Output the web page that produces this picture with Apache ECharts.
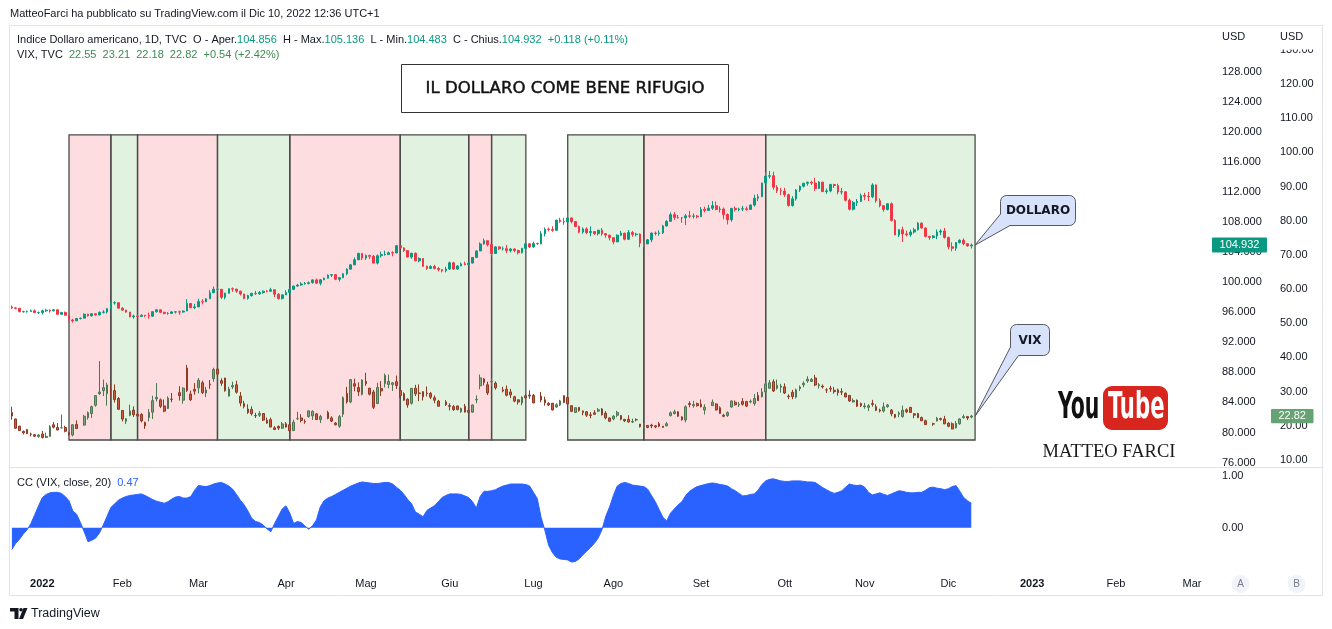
<!DOCTYPE html>
<html><head><meta charset="utf-8">
<script src="https://cdn.jsdelivr.net/npm/echarts@6/dist/echarts.min.js"></script>
<style>html,body{margin:0;padding:0;background:#fff}#c{width:1332px;height:629px}</style>
</head><body><div id="c"></div>
<script>
// ---------- categories (trading days) ----------
const nCats = 316;
const skipDays = ['2021-12-24', '2021-12-31'];
const monthNames = ['Gen','Feb','Mar','Apr','Mag','Giu','Lug','Ago','Set','Ott','Nov','Dic'];

// ---------- DXY (Indice Dollaro americano) ----------
const dxyPrevClose = 96.70;
const dxyClose = [
96.57,96.52,96.06,96.08,96.11,96.19,95.96,95.96,
96.19,96.27,96.18,96.32,95.72,95.97,95.60,94.96,94.85,95.17,95.21,95.74,95.52,95.80,95.64,95.99,96.03,96.47,97.25,97.27,96.54,
96.28,96.02,95.38,95.49,95.43,95.60,95.54,95.47,96.07,96.32,95.99,95.83,95.84,96.04,96.05,96.02,96.16,97.16,96.61,96.71,
97.41,97.39,97.79,98.60,99.05,99.05,97.98,98.53,99.13,99.08,98.80,98.43,97.84,98.21,98.50,98.45,98.63,98.80,98.79,98.99,98.40,97.82,98.31,
98.62,99.04,99.48,99.62,99.76,99.82,99.93,100.30,99.86,100.31,100.52,100.93,101.00,100.38,100.60,101.12,101.73,102.30,102.98,103.82,103.20,
103.54,103.44,102.54,103.52,103.66,103.67,103.91,103.88,104.85,104.56,104.20,103.34,103.84,102.84,103.15,102.11,101.83,102.08,101.83,101.67,101.53,101.75,
102.57,101.74,102.15,102.43,102.33,102.54,103.29,104.15,105.08,105.52,105.00,103.81,104.69,104.45,104.45,104.20,104.41,104.21,103.93,104.50,105.10,104.69,
105.13,105.10,106.43,107.04,107.01,106.89,108.26,108.07,108.01,108.54,108.06,107.41,106.67,107.08,106.59,106.73,106.45,106.91,106.45,106.26,105.91,
105.36,106.25,106.51,105.71,106.61,106.35,106.39,105.20,105.08,105.63,106.53,106.48,106.55,107.48,108.10,108.98,108.61,108.56,108.56,108.82,108.77,108.79,108.70,
109.68,109.54,109.83,110.17,109.68,109.73,109.01,108.30,109.82,109.67,109.73,109.76,109.68,110.26,111.16,111.36,113.19,114.10,114.16,112.63,112.16,112.12,
111.63,110.19,111.08,112.25,112.76,113.16,113.29,113.19,112.46,113.31,112.05,112.14,112.98,112.86,111.99,112.03,110.90,109.70,110.60,110.75,111.53,
111.44,111.35,112.93,110.83,110.17,109.67,110.43,108.21,106.28,106.98,106.42,106.30,106.67,106.96,107.85,107.20,106.09,105.94,106.14,106.67,106.80,105.95,
104.70,104.51,105.29,105.57,105.11,104.814,104.932
];
const dxyHigh = [
96.91,96.69,96.56,96.20,96.23,96.37,96.38,96.10,
96.34,96.46,96.38,96.44,96.34,96.05,96.09,95.60,95.12,95.24,95.30,95.83,95.80,95.86,95.87,96.10,96.27,96.55,97.34,97.44,97.27,
96.68,96.32,96.02,95.68,95.63,95.71,95.62,95.95,96.16,96.43,96.35,96.05,96.01,96.15,96.16,96.22,96.24,97.74,97.20,97.12,
97.80,97.73,97.88,98.93,99.42,99.33,99.05,98.60,99.14,99.30,99.08,98.87,98.44,98.33,98.60,98.84,98.83,98.91,98.93,99.25,99.01,98.55,98.34,
98.93,99.20,99.55,99.76,100.01,100.02,100.10,100.37,100.48,100.42,100.60,101.03,101.03,101.05,100.69,101.18,101.86,102.43,103.29,103.93,103.79,
103.69,103.66,103.59,103.69,104.07,104.19,104.06,104.11,104.93,105.01,104.64,104.24,103.89,103.95,103.31,103.19,102.20,102.25,102.31,101.98,101.75,102.05,
102.74,102.70,102.27,102.62,102.72,102.70,103.34,104.23,105.29,105.79,105.49,105.02,104.79,104.78,104.74,104.95,104.53,104.52,104.32,104.55,105.25,105.20,
105.39,105.26,106.79,107.27,107.27,107.42,108.29,108.56,108.56,109.29,108.59,108.07,107.53,107.29,107.29,107.42,106.78,106.97,107.19,106.54,106.25,
105.96,106.35,106.81,106.59,106.93,106.81,106.56,106.50,105.51,105.75,106.59,106.73,106.89,107.62,108.23,109.28,109.31,108.94,108.64,109.06,109.48,109.14,108.94,
109.99,110.03,110.27,110.79,110.73,110.09,109.92,109.12,109.87,110.05,109.91,110.16,110.06,110.35,111.63,111.72,113.23,114.58,114.78,114.69,112.90,112.54,
112.55,111.78,111.44,112.39,112.87,113.21,113.39,113.49,113.88,113.45,113.22,112.46,113.09,113.08,113.10,112.52,112.05,111.11,110.81,111.06,111.78,
111.88,111.99,113.15,113.01,111.15,110.23,110.47,110.61,108.38,107.04,107.38,106.85,106.99,107.23,107.99,107.95,107.28,106.16,106.26,107.00,107.04,107.20,
106.05,105.30,105.34,105.70,105.81,105.18,105.136
];
const dxyLow = [
96.43,96.38,96.00,95.95,95.95,96.04,95.91,95.78,
95.70,96.03,95.95,96.11,95.67,95.67,95.55,94.93,94.63,94.83,95.03,95.20,95.41,95.43,95.55,95.59,95.82,95.83,96.45,97.02,96.53,
96.18,95.94,95.34,95.14,95.28,95.38,95.35,95.14,95.41,95.94,95.91,95.72,95.66,95.79,95.83,95.67,95.94,96.14,96.54,96.42,
96.71,97.05,97.32,97.76,98.53,98.80,97.74,97.72,98.49,98.71,98.60,98.22,97.72,97.67,98.07,98.30,98.32,98.45,98.63,98.81,98.02,97.69,97.68,
98.30,98.58,98.94,99.38,99.53,99.67,99.70,99.80,99.78,99.57,100.27,100.48,100.69,100.26,100.09,100.52,100.93,101.65,102.29,102.92,102.94,
102.96,103.09,102.50,102.35,103.28,103.53,103.66,103.44,103.87,104.29,104.03,103.28,103.10,102.77,102.65,102.02,101.64,101.79,101.69,101.43,101.30,101.30,
101.62,101.63,101.66,102.13,102.24,102.17,102.48,103.23,104.15,104.99,104.76,103.41,103.75,104.28,104.20,103.86,103.95,103.98,103.68,103.82,104.43,104.53,
104.58,104.98,105.05,106.10,106.76,106.70,107.09,107.89,107.64,107.90,107.82,107.29,106.50,106.44,106.38,106.10,106.29,106.20,106.17,105.91,105.55,
105.04,105.32,106.13,105.57,105.63,106.04,106.09,104.64,104.64,105.10,105.32,106.22,106.18,106.41,107.39,108.03,108.29,108.45,107.90,107.59,108.52,108.45,108.50,
108.70,109.28,109.60,109.60,109.56,109.27,108.35,107.68,108.04,109.40,109.43,109.44,109.52,109.62,110.05,110.78,111.40,113.00,113.79,112.30,111.87,111.58,
111.35,110.07,110.06,110.84,111.99,112.61,112.83,112.93,112.13,112.40,111.98,111.75,111.95,112.53,111.68,111.64,110.72,109.54,109.54,110.13,110.68,
110.90,110.80,111.17,110.58,109.95,109.37,109.54,108.09,106.25,106.01,105.34,106.09,106.06,106.46,106.88,107.16,105.95,105.63,105.80,105.71,106.26,105.80,
104.36,104.11,104.18,105.14,104.89,104.74,104.483
];

// ---------- VIX [open, close, low, high]; null = no session ----------
const vixBars = [
[23.9,22.87,21.8,25.6],[22.0,19.29,19.1,22.1],[19.9,18.63,18.5,20.0],[18.4,17.96,17.5,18.6],[18.9,17.68,17.6,19.0],[17.6,17.54,16.9,18.0],[17.4,16.95,16.7,17.6],[16.9,17.33,16.5,17.5],
[17.6,16.60,16.3,18.5],[16.6,16.91,16.4,18.0],[16.9,19.73,16.8,20.2],[20.3,19.61,19.2,21.1],[19.5,18.76,18.7,20.8],
[19.4,19.40,19.3,23.3],[19.5,18.41,18.1,20.0],[18.0,17.62,17.0,18.2],[17.3,20.31,16.9,20.5],[20.4,19.19,19.1,21.6],
null,[20.2,22.79,20.1,23.2],[22.4,23.85,21.8,24.2],[23.6,25.59,22.3,25.9],[26.0,28.85,25.6,29.0],
[29.4,29.90,29.0,38.94],[30.3,31.16,28.7,33.5],[29.4,31.96,25.9,32.6],[30.5,30.49,28.3,32.0],[30.3,27.66,26.8,32.1],
[28.0,24.83,24.6,28.4],
[24.5,21.96,21.3,24.6],[21.3,22.09,20.5,22.2],[23.1,24.35,22.8,26.2],[24.6,23.22,22.6,25.7],
[23.4,22.86,22.2,24.1],[23.3,21.44,21.0,23.7],[21.0,19.96,19.1,21.2],[22.4,23.91,21.3,24.9],[24.0,27.36,22.0,28.8],
[27.9,28.33,27.1,32.5],[27.6,25.70,25.2,28.0],[25.8,24.29,24.0,27.7],[25.1,28.11,24.9,28.6],[27.8,27.75,26.9,29.6],
null,[29.7,28.81,27.4,31.6],[27.5,31.02,26.5,31.3],[36.9,30.32,29.9,37.8],[29.3,27.59,27.3,30.3],
[30.7,30.15,29.1,32.5],
[31.1,33.32,29.5,34.0],[32.6,29.74,29.3,33.2],[29.6,30.48,28.4,31.4],[32.2,31.98,30.8,33.4],
[33.8,36.45,32.9,37.0],[36.6,35.13,32.4,37.5],[33.2,32.45,31.7,33.9],[34.0,30.23,30.0,34.0],[28.7,30.75,28.6,31.4],
[31.4,31.77,30.8,32.9],[32.0,29.83,29.4,33.2],[28.7,26.67,25.7,29.9],[26.5,25.67,25.1,27.3],[24.9,23.87,23.5,26.3],
[24.8,23.53,23.0,25.7],[23.0,22.94,22.3,23.8],[23.1,23.57,22.6,24.3],[23.6,21.67,21.4,23.7],[21.6,20.81,20.6,22.4],
[21.8,19.63,19.6,22.4],[19.4,18.90,18.8,19.9],[19.8,19.33,18.8,20.1],[19.3,20.56,19.1,21.1],
[20.6,19.63,19.5,21.1],
[20.3,18.57,18.5,20.4],[18.6,21.03,18.5,21.8],[22.1,22.10,21.7,24.1],[22.3,21.55,21.0,23.4],[21.3,21.16,20.6,21.9],
[22.7,24.37,22.4,24.5],[22.9,24.26,21.7,24.5],[23.5,21.82,21.7,23.7],[21.8,22.70,20.8,23.2],null,
[23.9,22.17,21.9,24.4],[22.3,21.37,21.1,22.8],[20.8,20.32,20.1,21.1],[19.9,22.68,19.4,23.2],[23.4,28.21,22.6,28.6],
[29.5,27.02,26.5,31.4],[27.0,33.52,26.6,33.6],[32.3,31.60,30.1,33.8],[31.2,29.99,28.7,32.7],[29.2,33.40,28.9,33.6],
[33.0,32.34,31.7,35.5],[31.0,29.25,28.9,31.1],[29.9,25.42,24.9,30.5],[26.5,31.20,26.4,32.6],[30.9,30.19,28.7,33.1],
[32.3,34.75,31.2,35.3],[32.1,32.99,31.0,35.0],[32.1,32.56,30.2,32.8],[32.9,31.77,30.8,34.7],[30.3,28.87,28.2,31.4],
[29.4,27.47,27.3,29.8],[27.8,26.10,25.3,28.0],[26.6,30.96,26.2,31.0],[31.0,29.35,28.7,32.0],[29.6,29.43,27.2,32.1],
[30.0,28.48,27.4,30.1],[29.6,29.45,28.6,31.5],[29.5,28.37,27.8,29.9],[28.2,27.50,26.6,28.9],[27.2,25.72,25.7,27.6],
null,[27.0,26.19,25.8,27.5],
[25.9,25.69,24.5,26.6],[25.6,24.72,24.4,26.1],[25.8,24.79,24.5,25.9],
[24.1,25.07,23.8,25.3],[25.7,24.02,23.9,26.4],[24.5,23.96,23.6,24.8],[24.0,26.09,23.8,26.2],[27.6,27.75,26.6,28.9],
[31.7,34.02,30.7,35.0],[33.7,32.69,31.8,34.0],[32.0,29.62,29.0,32.9],[32.9,32.95,31.7,34.0],[32.5,31.13,30.6,33.0],
null,[30.5,30.19,29.8,31.4],[30.7,28.95,28.6,31.8],[29.9,29.05,28.1,30.8],[28.5,27.23,26.9,28.8],
[27.6,26.95,26.2,27.7],[26.7,28.36,26.0,28.6],[28.8,28.16,27.8,29.3],[29.0,28.71,27.9,30.4],
[28.9,26.70,26.6,29.3],
null,[28.7,27.54,26.9,29.9],[27.6,26.73,25.9,28.5],[26.6,26.08,25.8,26.9],[26.6,24.64,24.5,26.7],
[25.5,26.17,25.3,26.6],[26.1,27.29,25.8,27.6],[28.8,26.82,26.6,28.9],[28.3,26.40,26.1,28.6],[25.9,24.23,24.0,25.9],
[23.9,25.30,23.8,25.3],[25.4,24.50,24.1,25.5],[24.3,23.88,23.1,24.5],[24.1,23.11,22.6,24.3],[23.2,23.03,22.2,24.0],
[23.8,23.36,23.2,24.6],[24.3,24.69,24.0,25.2],[24.9,23.24,23.0,25.2],[23.7,22.33,21.9,24.3],[22.3,21.33,21.1,22.4],
[22.0,22.84,21.6,23.1],[23.1,23.93,22.5,24.4],[23.0,21.95,21.6,23.1],[21.9,21.44,21.1,22.0],[21.9,21.15,20.9,23.1],
[21.1,21.29,20.8,22.1],[21.8,21.77,21.3,22.2],[20.5,19.74,19.5,20.5],[19.8,20.20,19.3,20.8],[20.1,19.53,19.3,20.1],
[20.2,19.95,19.3,20.6],[20.0,19.69,19.3,20.2],[20.6,19.90,19.6,21.1],[19.9,19.56,19.4,19.9],[20.0,20.60,19.8,21.1],
[23.0,23.80,22.7,24.2],[23.6,24.11,23.3,24.7],[24.1,22.82,22.6,24.2],[22.6,21.78,21.5,22.8],[21.7,25.56,21.0,26.0],
[26.5,26.21,25.4,27.2],[25.9,26.21,25.3,27.3],[26.5,25.87,25.6,26.8],
[26.3,25.56,25.4,27.7],[24.6,25.47,23.3,26.3],
null,[25.9,26.91,25.8,27.7],[26.4,24.64,24.5,26.6],[25.3,23.61,23.5,25.7],[23.1,22.79,22.5,23.5],
[23.0,23.87,22.6,24.2],[25.5,27.27,25.3,27.4],[26.9,26.16,25.9,27.4],[26.1,26.27,25.5,27.0],[27.1,26.30,25.9,28.1],
[27.1,25.76,25.5,27.3],[27.0,27.16,26.6,27.7],[26.5,27.99,25.9,29.3],[28.9,27.35,27.3,29.9],[28.5,29.92,28.3,31.0],
[29.9,32.26,29.8,32.9],[31.0,32.60,30.9,33.4],[32.9,30.18,29.9,33.6],[31.0,31.84,30.6,33.5],[31.3,31.62,29.7,32.3],
[31.4,29.59,29.3,32.4],[28.7,28.55,27.8,29.2],[29.8,28.55,27.8,30.5],[28.4,30.52,28.0,30.9],[30.9,31.36,30.2,31.8],
[32.0,32.45,31.3,33.0],[33.1,33.63,32.6,34.5],[33.0,33.57,32.8,34.0],[34.0,31.94,31.6,34.9],[31.7,32.02,30.9,32.5],
[31.6,31.37,30.9,32.1],[30.5,30.50,29.6,31.0],[31.0,30.76,29.9,31.7],[30.4,29.98,29.4,31.4],[30.5,29.69,28.8,30.9],
[30.0,29.85,29.0,31.0],[29.5,28.46,28.3,29.8],[28.9,27.28,27.0,28.9],[27.0,27.39,26.8,28.0],[27.5,25.75,25.5,27.7],
[26.5,25.88,25.5,26.8],
[25.6,25.81,25.0,26.7],[25.4,25.86,24.3,26.3],[26.5,26.27,25.6,27.6],[25.6,24.55,24.3,26.3],
[24.6,24.35,23.9,25.0],[24.3,25.54,23.9,26.8],[25.6,26.09,25.3,26.4],[24.6,23.53,22.8,24.9],[23.3,22.52,22.2,23.5],
[23.4,23.73,22.5,24.2],[22.7,24.54,22.4,25.9],[24.7,24.11,23.7,25.1],[25.4,23.93,23.9,25.5],[23.5,23.12,22.2,23.7],
[23.6,22.36,22.3,23.8],[22.4,21.47,21.4,22.7],[21.5,20.35,20.3,21.8],null,[20.6,20.50,20.0,20.9],
[21.4,22.21,21.3,22.6],[22.1,21.89,21.5,22.4],[22.0,20.58,20.5,22.9],
[20.8,19.84,19.6,21.0],[20.6,19.06,19.0,21.0],
[19.4,20.75,19.2,21.4],[20.6,22.01,20.3,22.2],[22.4,22.68,22.1,23.3],[22.7,22.28,21.7,22.9],[22.55,22.82,22.18,23.21]
];

// ---------- CC (VIX, close, 20) ----------
const ccValues = [
-0.42,-0.30,-0.22,-0.12,-0.04,0.08,0.25,0.42,0.58,0.64,0.67,0.68,0.68,0.66,0.60,0.52,0.32,0.26,0.10,-0.08,
-0.27,-0.24,-0.20,-0.10,0.05,0.22,0.39,0.46,0.53,0.57,0.60,0.62,0.63,0.64,0.65,0.62,0.58,0.54,0.51,0.49,
0.47,0.50,0.55,0.59,0.60,0.57,0.57,0.60,0.72,0.81,0.80,0.79,0.81,0.84,0.86,0.87,0.84,0.80,0.74,0.64,
0.53,0.44,0.32,0.18,0.12,0.10,0.05,-0.02,-0.08,0.08,0.22,0.36,0.42,0.28,0.08,0.12,0.10,0.03,-0.03,0.04,
0.15,0.40,0.52,0.57,0.60,0.64,0.68,0.72,0.76,0.80,0.83,0.86,0.88,0.87,0.86,0.85,0.85,0.86,0.87,0.87,
0.84,0.78,0.72,0.64,0.54,0.46,0.30,0.26,0.21,0.33,0.38,0.42,0.50,0.58,0.62,0.65,0.65,0.65,0.64,0.61,
0.58,0.50,0.38,0.60,0.70,0.70,0.71,0.73,0.77,0.80,0.82,0.84,0.84,0.84,0.84,0.83,0.80,0.68,0.56,0.20,
-0.05,-0.34,-0.48,-0.57,-0.60,-0.61,-0.62,-0.66,-0.65,-0.60,-0.52,-0.45,-0.38,-0.30,-0.20,-0.04,0.22,0.40,0.62,0.80,
0.85,0.87,0.85,0.82,0.81,0.80,0.79,0.74,0.62,0.50,0.35,0.20,0.13,0.28,0.36,0.44,0.50,0.62,0.70,0.75,
0.79,0.81,0.83,0.85,0.86,0.85,0.83,0.82,0.80,0.75,0.71,0.66,0.61,0.62,0.64,0.65,0.72,0.83,0.90,0.93,
0.94,0.92,0.90,0.89,0.89,0.90,0.90,0.90,0.89,0.88,0.88,0.87,0.82,0.77,0.73,0.69,0.66,0.68,0.71,0.78,
0.84,0.82,0.81,0.82,0.78,0.68,0.63,0.65,0.67,0.64,0.62,0.65,0.68,0.71,0.70,0.68,0.67,0.67,0.68,0.68,
0.72,0.77,0.78,0.76,0.75,0.73,0.75,0.79,0.81,0.70,0.58,0.52,0.47
];

// ---------- shaded zones (dates and DXY price bounds) ----------
const zoneFrom = ['2022-01-12','2022-01-27','2022-02-07','2022-03-08','2022-04-04','2022-05-13','2022-06-08','2022-06-16','2022-07-14','2022-08-11','2022-09-26'];
const zoneTo   = ['2022-01-27','2022-02-07','2022-03-08','2022-04-04','2022-05-13','2022-06-08','2022-06-16','2022-06-29','2022-08-11','2022-09-26','2022-12-12'];
const zoneKind = ['r','g','r','g','r','g','r','g','g','r','g'];
const zoneTop = 119.58, zoneBottom = 79.0;

const dxyTicks = [76,80,84,88,92,96,100,104,108,112,116,120,124,128];
const vixTicks = [10,20,30,40,50,60,70,80,90,100,110,120,130];
const ccTicks = [0,1];

// ---------- build ----------
function buildCats() {
  const out = []; const d = new Date(Date.UTC(2021, 11, 20));
  while (out.length < nCats) {
    const wd = d.getUTCDay(); const s = d.toISOString().slice(0, 10);
    if (wd !== 0 && wd !== 6 && skipDays.indexOf(s) < 0) out.push(s);
    d.setUTCDate(d.getUTCDate() + 1);
  }
  return out;
}
const cats = buildCats();
const dxyData = dxyClose.map((c, i) => {
  const o = i === 0 ? dxyPrevClose : dxyClose[i - 1];
  return [o, c, Math.min(dxyLow[i], o, c), Math.max(dxyHigh[i], o, c)];
});
const vixData = vixBars.map(b => b ? b : ['-', '-', '-', '-']);

const FONT = "'Liberation Sans', Arial, sans-serif";
const TXT = '#131722';

const zones = zoneFrom.map((f, i) => [
  { xAxis: f, yAxis: zoneTop, itemStyle: { color: zoneKind[i] === 'r' ? 'rgba(242,54,69,0.17)' : 'rgba(76,175,80,0.17)', borderColor: '#4a4a4a', borderWidth: 1.3 } },
  { xAxis: zoneTo[i], yAxis: zoneBottom }
]);

const chart = echarts.init(document.getElementById('c'), null, { renderer: 'canvas' });
const option = {
  animation: false,
  backgroundColor: '#ffffff',
  grid: [
    { left: 10, width: 1203, top: 25, height: 442.3 },
    { left: 10, width: 1203, top: 467.3, height: 100.7 }
  ],
  xAxis: [
    { type: 'category', gridIndex: 0, data: cats, boundaryGap: true, show: false },
    { type: 'category', gridIndex: 1, data: cats, boundaryGap: true,
      axisLine: { show: false }, axisTick: { show: false }, splitLine: { show: false },
      axisLabel: {
        margin: 10, fontSize: 11, fontFamily: FONT, color: TXT,
        interval: (i, v) => i > 0 && v.slice(0, 7) !== cats[i - 1].slice(0, 7),
        formatter: v => { const m = +v.slice(5, 7); return m === 1 ? '{y|' + v.slice(0, 4) + '}' : monthNames[m - 1]; },
        rich: { y: { fontWeight: 'bold', fontSize: 11, fontFamily: FONT, color: TXT } }
      } }
  ],
  yAxis: [
    { type: 'value', gridIndex: 0, position: 'right', min: 75.37, max: 134.21, scale: true,
      axisLine: { show: false }, axisTick: { show: false }, splitLine: { show: false },
      axisLabel: { customValues: dxyTicks, margin: 9, fontSize: 11, fontFamily: FONT, color: TXT, formatter: v => v.toFixed(3) } },
    { type: 'value', gridIndex: 0, position: 'right', offset: 58, min: 7.86, max: 137.27, scale: true,
      axisLine: { show: false }, axisTick: { show: false }, splitLine: { show: false },
      axisLabel: { customValues: vixTicks, margin: 9, fontSize: 11, fontFamily: FONT, color: TXT, formatter: v => v.toFixed(2) } },
    { type: 'value', gridIndex: 1, position: 'right', min: -0.775, max: 1.1615, scale: true,
      axisLine: { show: false }, axisTick: { show: false }, splitLine: { show: false },
      axisLabel: { customValues: ccTicks, margin: 9, fontSize: 11, fontFamily: FONT, color: TXT, formatter: v => v.toFixed(2) } }
  ],
  series: [
    { name: 'DXY', type: 'candlestick', xAxisIndex: 0, yAxisIndex: 0, data: dxyData, barWidth: 2.2,
      itemStyle: { color: '#089981', color0: '#F23645', borderColor: '#089981', borderColor0: '#F23645', borderWidth: 1 },
      markArea: { silent: true, data: zones }, z: 3 },
    { name: 'VIX', type: 'candlestick', xAxisIndex: 0, yAxisIndex: 1, data: vixData, barWidth: 2.2,
      itemStyle: { color: '#7aa57e', color0: '#cf5b3e', borderColor: '#4d7653', borderColor0: '#8e3a25', borderWidth: 1 }, z: 3 },
    { name: 'CC', type: 'line', xAxisIndex: 1, yAxisIndex: 2, data: ccValues, symbol: 'none',
      lineStyle: { color: '#2962ff', width: 1 }, areaStyle: { color: '#2962ff', opacity: 1 } }
  ]
};
chart.setOption(option);

// ---------- annotations ----------
const last = dxyClose.length - 1;
const lastVix = vixBars[last][1];
const pD = chart.convertToPixel({ xAxisIndex: 0, yAxisIndex: 0 }, [last + 1, dxyClose[last]]);
const pV = chart.convertToPixel({ xAxisIndex: 0, yAxisIndex: 1 }, [last + 1, lastVix]);
const pTag = chart.convertToPixel({ xAxisIndex: 0, yAxisIndex: 0 }, [last, dxyClose[last]]);
const pTagV = chart.convertToPixel({ xAxisIndex: 0, yAxisIndex: 1 }, [last, lastVix]);

const BORDER = '#e0e3eb';
function line(x1, y1, x2, y2, c, w) { return { type: 'line', silent: true, z: 50, shape: { x1, y1, x2, y2 }, style: { stroke: c, lineWidth: w || 1 } }; }
function text(x, y, t, o, z) { return { type: 'text', silent: true, z: z || 60, x, y, style: Object.assign({ text: t, fontFamily: FONT, fontSize: 11, fill: TXT, align: 'left', verticalAlign: 'middle' }, o || {}) }; }
function callout(bx, by, bw, bh, tip, b1, b2, label) {
  return [
    { type: 'rect', silent: true, z: 70, shape: { x: bx, y: by, width: bw, height: bh, r: 6 }, style: { fill: '#d9e2fb', stroke: '#55585f', lineWidth: 1 } },
    { type: 'polygon', silent: true, z: 71, shape: { points: [b1, tip, b2, [b2[0] + 2, b1[1] - 2]] }, style: { fill: '#d9e2fb' } },
    { type: 'polyline', silent: true, z: 72, shape: { points: [b1, tip, b2] }, style: { stroke: '#55585f', lineWidth: 1, fill: null } },
    text(bx + bw / 2, by + bh / 2 + 0.5, label, { align: 'center', fontSize: 12, fontWeight: 'bold', fill: '#131722', fontFamily: "'DejaVu Sans', sans-serif" }, 75)
  ];
}

const g = [
  // frame
  line(9.5, 25.5, 1322.5, 25.5, BORDER), line(9.5, 25.5, 9.5, 595.5, BORDER), line(1322.5, 25.5, 1322.5, 595.5, BORDER),
  line(9.5, 595.5, 1322.5, 595.5, BORDER), line(9.5, 467.5, 1322.5, 467.5, BORDER),
  // mask top of right scale (label under the header is cut as in the original)
  { type: 'rect', silent: true, z: 55, shape: { x: 1214, y: 26, width: 108, height: 23.5 }, style: { fill: '#ffffff' } },
  // header
  text(10, 14, 'MatteoFarci ha pubblicato su TradingView.com il Dic 10, 2022 12:36 UTC+1', { fontSize: 11 }),
  text(17, 40, '{a|Indice Dollaro americano, 1D, TVC  O - Aper.}{b|104.856}{a|  H - Max.}{b|105.136}{a|  L - Min.}{b|104.483}{a|  C - Chius.}{b|104.932}{b|  +0.118 (+0.11%)}',
    { rich: { a: { fill: TXT, fontSize: 11, fontFamily: FONT }, b: { fill: '#089981', fontSize: 11, fontFamily: FONT } } }),
  text(17, 55, '{a|VIX, TVC  }{b|22.55  23.21  22.18  22.82  +0.54 (+2.42%)}',
    { rich: { a: { fill: TXT, fontSize: 11, fontFamily: FONT }, b: { fill: '#3d8b52', fontSize: 11, fontFamily: FONT } } }),
  text(1222, 37, 'USD'), text(1280, 37, 'USD'),
  // title box
  { type: 'rect', silent: true, z: 60, shape: { x: 401.5, y: 64.5, width: 327, height: 48 }, style: { fill: '#ffffff', stroke: '#333333', lineWidth: 1 } },
  text(565, 88.5, 'IL DOLLARO COME BENE RIFUGIO', { align: 'center', fontSize: 16.6, fontFamily: "'DejaVu Sans', sans-serif", fill: '#111111', stroke: '#111111', lineWidth: 0.45 }, 61),
  // price tags
  { type: 'rect', silent: true, z: 60, shape: { x: 1212, y: pTag[1] - 7.5, width: 55, height: 15, r: 1 }, style: { fill: '#089981' } },
  text(1239.5, pTag[1], dxyClose[last].toFixed(3), { align: 'center', fill: '#ffffff' }, 61),
  { type: 'rect', silent: true, z: 60, shape: { x: 1271, y: pTagV[1] - 7.2, width: 42.5, height: 14.4, r: 1 }, style: { fill: '#66a273' } },
  text(1292.2, pTagV[1], lastVix.toFixed(2), { align: 'center', fill: '#ffffff' }, 61),
  // CC legend
  text(17, 482.5, '{a|CC (VIX, close, 20)  }{b|' + ccValues[ccValues.length - 1].toFixed(2) + '}',
    { rich: { a: { fill: TXT, fontSize: 11, fontFamily: FONT }, b: { fill: '#2962ff', fontSize: 11, fontFamily: FONT } } }),
  // A / B buttons
  { type: 'circle', silent: true, z: 60, shape: { cx: 1240.5, cy: 584, r: 9 }, style: { fill: '#f0f3fa' } },
  text(1240.5, 584, 'A', { align: 'center', fontSize: 10, fill: '#787b86' }, 61),
  { type: 'circle', silent: true, z: 60, shape: { cx: 1296.5, cy: 584, r: 9 }, style: { fill: '#f0f3fa' } },
  text(1296.5, 584, 'B', { align: 'center', fontSize: 10, fill: '#787b86' }, 61),
  // footer logo
  { type: 'polygon', silent: true, z: 60, shape: { points: [[10, 608], [18.5, 608], [18.5, 619], [14.5, 619], [14.5, 611.5], [10, 611.5]] }, style: { fill: '#131722' } },
  { type: 'circle', silent: true, z: 60, shape: { cx: 21, cy: 609.8, r: 1.8 }, style: { fill: '#131722' } },
  { type: 'polygon', silent: true, z: 60, shape: { points: [[23.5, 608], [27.5, 608], [23, 619], [19, 619]] }, style: { fill: '#131722' } },
  text(31, 613.5, 'TradingView', { fontSize: 12.5 }),
  // YouTube logo
  { type: 'text', silent: true, z: 60, x: 1058, y: 427, scaleX: 0.6, style: { text: 'You', fontFamily: "'DejaVu Sans Condensed', 'DejaVu Sans', sans-serif", fontWeight: 'bold', fontSize: 38, fill: '#111111', align: 'left', verticalAlign: 'bottom' } },
  { type: 'rect', silent: true, z: 60, shape: { x: 1103, y: 386, width: 65, height: 44, r: 9 }, style: { fill: '#d8251d' } },
  { type: 'text', silent: true, z: 61, x: 1108, y: 427, scaleX: 0.62, style: { text: 'Tube', fontFamily: "'DejaVu Sans Condensed', 'DejaVu Sans', sans-serif", fontWeight: 'bold', fontSize: 38, fill: '#ffffff', align: 'left', verticalAlign: 'bottom' } },
  text(1109, 452, 'MATTEO FARCI', { align: 'center', fontSize: 18.5, fontFamily: "'Liberation Serif', serif", fill: '#1a1a1a' })
].concat(
  callout(1000.5, 195.5, 75, 30, pD, [1000.5, 214], [1010, 225.5], 'DOLLARO'),
  callout(1010.5, 324.5, 39, 31, pV, [1010.5, 347], [1018.5, 355.5], 'VIX')
);
chart.setOption({ graphic: g });
</script></body></html>
